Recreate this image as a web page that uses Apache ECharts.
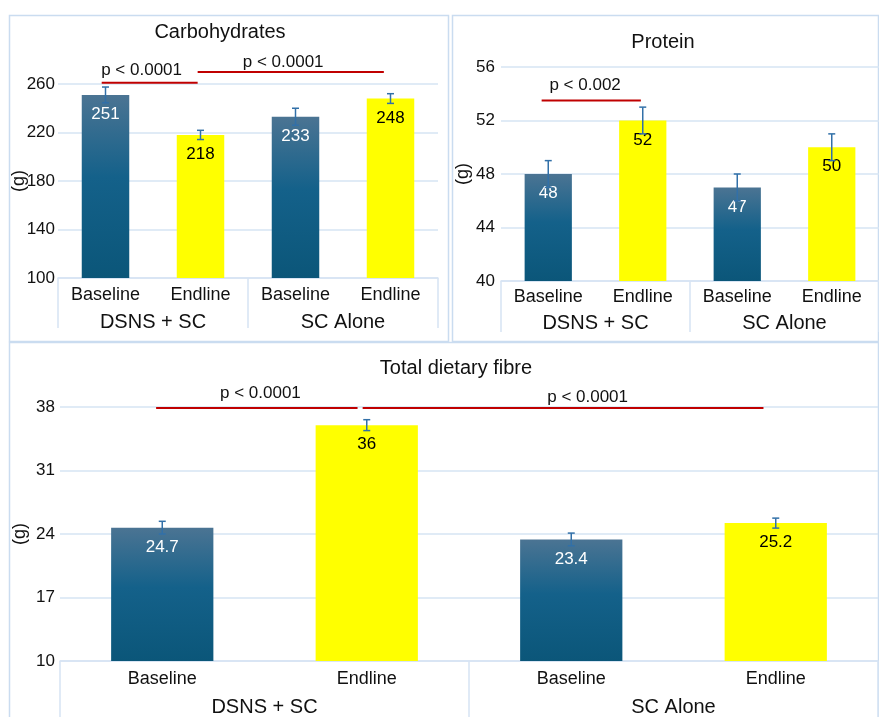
<!DOCTYPE html>
<html>
<head>
<meta charset="utf-8">
<script src="https://cdn.jsdelivr.net/npm/echarts@6/dist/echarts.min.js"></script>
<style>
  html, body { margin: 0; padding: 0; background: #ffffff; }
  #chart { width: 879px; height: 717px; }
</style>
</head>
<body>
<div id="chart"></div>
<script>
// ---- data -------------------------------------------------------------
const categories = ['Baseline', 'Endline', 'Baseline', 'Endline'];
const groups = ['DSNS + SC', 'SC Alone'];

const carbMeans = [251, 218, 233, 248];
const carbErrors = [6.5, 3.8, 7, 4];
const carbTicks = [100, 140, 180, 220, 260];

const proteinMeans = [48, 52, 47, 50];
const proteinErrors = [1, 1, 1, 1];
const proteinTicks = [40, 44, 48, 52, 56];

const fibreMeans = [24.7, 36, 23.4, 25.2];
const fibreErrors = [0.7, 0.6, 0.7, 0.55];
const fibreTicks = [10, 17, 24, 31, 38];

// significance brackets: span in category units, level in axis units
const carbBrackets = [
  { from: -0.04, to: 0.97, level: 261, text: 'p < 0.0001', textAt: 0.38, textLevel: 271 },
  { from: 0.97, to: 2.93, level: 270, text: 'p < 0.0001', textAt: 1.87, textLevel: 277.5 }
];
const proteinBrackets = [
  { from: -0.07, to: 0.98, level: 53.5, text: 'p < 0.002', textAt: 0.39, textLevel: 54.65 }
];
const fibreBrackets = [
  { from: -0.03, to: 0.955, level: 37.9, text: 'p < 0.0001', textAt: 0.48, textLevel: 39.55 },
  { from: 0.98, to: 2.94, level: 37.9, text: 'p < 0.0001', textAt: 2.08, textLevel: 39.1 }
];

// ---- styling ----------------------------------------------------------
const FONT = '"Liberation Sans", Arial, Helvetica, sans-serif';
const GRID_COLOR = '#d6e4f3';
const FRAME_COLOR = '#cadcf0';
const BLUE = new echarts.graphic.LinearGradient(0, 0, 0, 1, [
  { offset: 0, color: '#4b7493' },
  { offset: 0.45, color: '#14618a' },
  { offset: 1, color: '#0b5679' }
]);
const YELLOW = '#ffff00';
const ERR_COLOR = '#3270a8';
const SIG_COLOR = '#c00000';

const panels = [
  { title: 'Carbohydrates', titleX: 215, titleY: 17,
    grid: { left: 58, right: 441, top: 84, bottom: 439 },
    means: carbMeans, errors: carbErrors, ticks: carbTicks, brackets: carbBrackets,
    catMargin: 8, groupMargin: 34, sepLength: 50, nameGap: 30, tickMargin: 3 },
  { title: 'Protein', titleX: 658, titleY: 27,
    grid: { left: 501, right: 0, top: 67, bottom: 436 },
    means: proteinMeans, errors: proteinErrors, ticks: proteinTicks, brackets: proteinBrackets,
    catMargin: 7, groupMargin: 32, sepLength: 51, nameGap: 29, tickMargin: 6 },
  { title: 'Total dietary fibre', titleX: 451, titleY: 353,
    grid: { left: 60, right: 1, top: 407, bottom: 56 },
    means: fibreMeans, errors: fibreErrors, ticks: fibreTicks, brackets: fibreBrackets,
    catMargin: 9, groupMargin: 36, sepLength: 60, nameGap: 31, tickMargin: 5 }
];

const option = {
  animation: false,
  backgroundColor: '#ffffff',
  textStyle: { fontFamily: FONT },
  title: [], grid: [], xAxis: [], yAxis: [], series: [],
  graphic: [
    { type: 'rect', shape: { x: 9.5, y: 15.5, width: 439, height: 326 },
      style: { fill: 'none', stroke: FRAME_COLOR, lineWidth: 1.5 }, silent: true },
    { type: 'rect', shape: { x: 452.5, y: 15.5, width: 426, height: 326 },
      style: { fill: 'none', stroke: FRAME_COLOR, lineWidth: 1.5 }, silent: true },
    { type: 'rect', shape: { x: 9.5, y: 342.5, width: 869, height: 380 },
      style: { fill: 'none', stroke: FRAME_COLOR, lineWidth: 1.5 }, silent: true }
  ]
};

panels.forEach(function (p, gi) {
  option.title.push({
    text: p.title, left: p.titleX, top: p.titleY, textAlign: 'center',
    textStyle: { fontFamily: FONT, fontSize: 20, fontWeight: 'normal', color: '#111' }
  });
  option.grid.push(Object.assign({ containLabel: false }, p.grid));

  // category row (Baseline / Endline)
  option.xAxis.push({
    type: 'category', gridIndex: gi, data: categories, position: 'bottom', offset: 0,
    axisLine: { show: true, lineStyle: { color: GRID_COLOR, width: 1.5 } },
    axisTick: { show: false },
    axisLabel: { fontFamily: FONT, fontSize: 18, color: '#111', margin: p.catMargin, interval: 0 }
  });
  // group row (DSNS + SC / SC Alone) with separators
  option.xAxis.push({
    type: 'category', gridIndex: gi, data: groups, position: 'bottom', offset: 0,
    axisLine: { show: false },
    axisTick: { show: true, alignWithLabel: false, length: p.sepLength, inside: false,
      lineStyle: { color: GRID_COLOR, width: 1.5 } },
    axisLabel: { fontFamily: FONT, fontSize: 20, color: '#111', margin: p.groupMargin, interval: 0 }
  });

  const t = p.ticks;
  option.yAxis.push({
    type: 'value', gridIndex: gi,
    min: t[0], max: t[t.length - 1], interval: t[1] - t[0],
    name: '(g)', nameLocation: 'middle', nameRotate: 90, nameGap: p.nameGap,
    nameMoveOverlap: false,
    nameTextStyle: { fontFamily: FONT, fontSize: 18, color: '#111' },
    axisLine: { show: false }, axisTick: { show: false },
    axisLabel: { fontFamily: FONT, fontSize: 17, color: '#111', margin: p.tickMargin },
    splitLine: { show: true, lineStyle: { color: GRID_COLOR, width: 1.5 } }
  });

  const xIdx = gi * 2;

  option.series.push({
    type: 'bar', xAxisIndex: xIdx, yAxisIndex: gi, barWidth: '50%',
    data: p.means.map(function (v, i) {
      const isBase = i % 2 === 0;
      return {
        value: v,
        itemStyle: { color: isBase ? BLUE : YELLOW },
        label: { color: isBase ? '#ffffff' : '#000000' }
      };
    }),
    label: { show: true, position: 'insideTop', distance: 11, fontFamily: FONT, fontSize: 17 },
    z: 2
  });

  // error bars
  option.series.push({
    type: 'custom', xAxisIndex: xIdx, yAxisIndex: gi, z: 10, clip: false,
    data: p.means.map(function (m, i) { return [i, m, p.errors[i]]; }),
    encode: { x: 0, y: 1 },
    renderItem: function (params, api) {
      const i = api.value(0), m = api.value(1), e = api.value(2);
      const hi = api.coord([i, m + e]);
      const lo = api.coord([i, m - e]);
      const cap = 3.5;
      const style = { stroke: ERR_COLOR, lineWidth: 1.5 };
      return {
        type: 'group',
        children: [
          { type: 'line', shape: { x1: hi[0], y1: hi[1], x2: lo[0], y2: lo[1] }, style: style },
          { type: 'line', shape: { x1: hi[0] - cap, y1: hi[1], x2: hi[0] + cap, y2: hi[1] }, style: style },
          { type: 'line', shape: { x1: lo[0] - cap, y1: lo[1], x2: lo[0] + cap, y2: lo[1] }, style: style }
        ]
      };
    }
  });

  // significance brackets
  const br = p.brackets;
  option.series.push({
    type: 'custom', xAxisIndex: xIdx, yAxisIndex: gi, z: 11, clip: false, silent: true,
    data: br.map(function (b, k) { return [k, b.from, b.to, b.level, b.textAt, b.textLevel]; }),
    encode: { x: 1, y: 3 },
    renderItem: function (params, api) {
      const k = api.value(0);
      const from = api.value(1), to = api.value(2), level = api.value(3);
      const tAt = api.value(4), tLevel = api.value(5);
      const band = api.size([1, 0])[0];
      const origin = api.coord([0, level])[0];
      const y = api.coord([0, level])[1];
      const ty = api.coord([0, tLevel])[1];
      return {
        type: 'group',
        children: [
          { type: 'line',
            shape: { x1: origin + from * band, y1: y, x2: origin + to * band, y2: y },
            style: { stroke: SIG_COLOR, lineWidth: 2 } },
          { type: 'text',
            x: origin + tAt * band, y: ty,
            style: { text: br[k].text, fill: '#111', font: '17px ' + FONT,
              align: 'center', verticalAlign: 'middle' } }
        ]
      };
    }
  });
});

const chart = echarts.init(document.getElementById('chart'), null, { renderer: 'canvas' });
chart.setOption(option);
</script>
</body>
</html>
